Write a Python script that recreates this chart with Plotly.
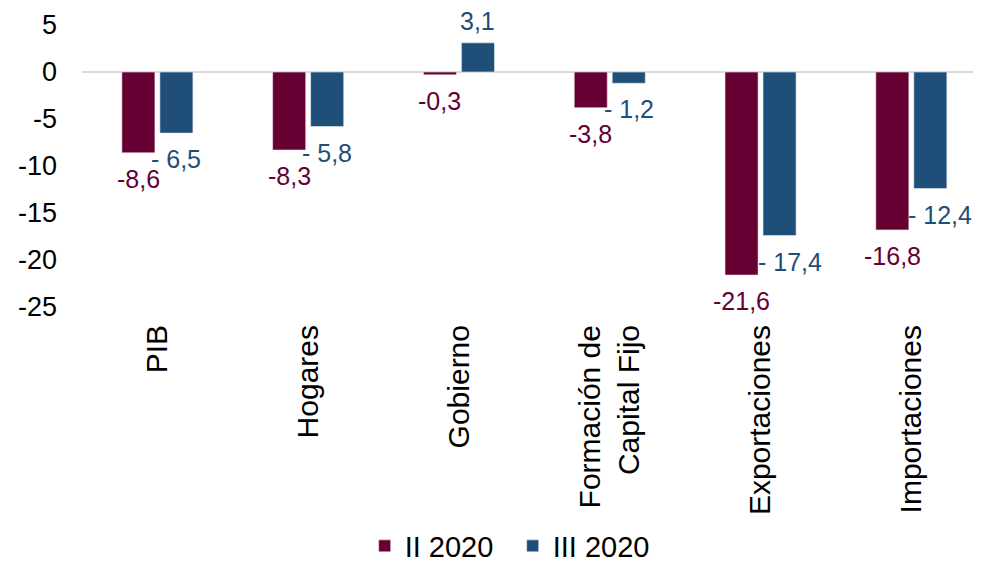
import plotly.graph_objects as go

categories = ["PIB", "Hogares", "Gobierno", "Formación de<br>Capital Fijo", "Exportaciones", "Importaciones"]
series_names = ["II 2020", "III 2020"]
ii_2020 = [-8.6, -8.3, -0.3, -3.8, -21.6, -16.8]
iii_2020 = [-6.5, -5.8, 3.1, -1.2, -17.4, -12.4]
y_ticks = [5, 0, -5, -10, -15, -20, -25]
y_tick_labels = ["5", "0", "-5", "-10", "-15", "-20", "-25"]

MAROON = "#660033"
BLUE = "#1F4E79"
FONT = "Liberation Sans, Arial, sans-serif"


def fmt_ii(v):
    return f"{v:.1f}".replace(".", ",")


def fmt_iii(v):
    s = f"{abs(v):.1f}".replace(".", ",")
    return ("- " + s) if v < 0 else s


fig = go.Figure()
fig.add_trace(go.Bar(x=categories, y=ii_2020, name=series_names[0],
                     marker=dict(color=MAROON, line=dict(color="#f2e6ea", width=0.6))))
fig.add_trace(go.Bar(x=categories, y=iii_2020, name=series_names[1],
                     marker=dict(color=BLUE, line=dict(color="#e6edf4", width=0.6))))

annotations = []
for cat, v in zip(categories, ii_2020):
    annotations.append(dict(
        x=cat, y=v, xref="x", yref="y", text=fmt_ii(v), showarrow=False,
        xshift=-19, yshift=(-26 if v < 0 else 22), yanchor="middle",
        font=dict(family=FONT, size=25, color=MAROON)))
for cat, v, other in zip(categories, iii_2020, ii_2020):
    # nudge right when the label would collide with the neighbouring (deeper) bar
    nudge = 10 if (v < 0 and other < v - 3) else 0
    annotations.append(dict(
        x=cat, y=v, xref="x", yref="y", text=fmt_iii(v), showarrow=False,
        xshift=19 + nudge, yshift=(-26 if v < 0 else 22), yanchor="middle",
        font=dict(family=FONT, size=25, color=BLUE)))

fig.update_layout(
    width=965, height=555,
    margin=dict(l=74, r=0, t=17, b=256),
    paper_bgcolor="white", plot_bgcolor="white",
    barmode="group", bargap=0.496, bargroupgap=0.13,
    font=dict(family=FONT, size=26, color="#000000"),
    showlegend=True,
    legend=dict(orientation="h", xref="container", yref="container",
                x=0.523, xanchor="center", y=17 / 555, yanchor="middle",
                font=dict(family=FONT, size=29, color="#000000"),
                itemwidth=30, tracegroupgap=0,
                entrywidth=103, entrywidthmode="pixels"),
    annotations=annotations,
)
fig.update_xaxes(range=[-0.5, 5.409], tickangle=-90, showgrid=False, showline=False,
                 ticks="", ticklabelstandoff=11,
                 tickfont=dict(family=FONT, size=30, color="#000000"))
fig.update_yaxes(range=[-25, 5], tickvals=y_ticks, ticktext=y_tick_labels, showgrid=False,
                 zeroline=True, zerolinecolor="#d9d9d9", zerolinewidth=2,
                 showline=False, ticks="", ticklabelstandoff=24,
                 tickfont=dict(family=FONT, size=27, color="#000000"))

fig.write_html("out.html")
